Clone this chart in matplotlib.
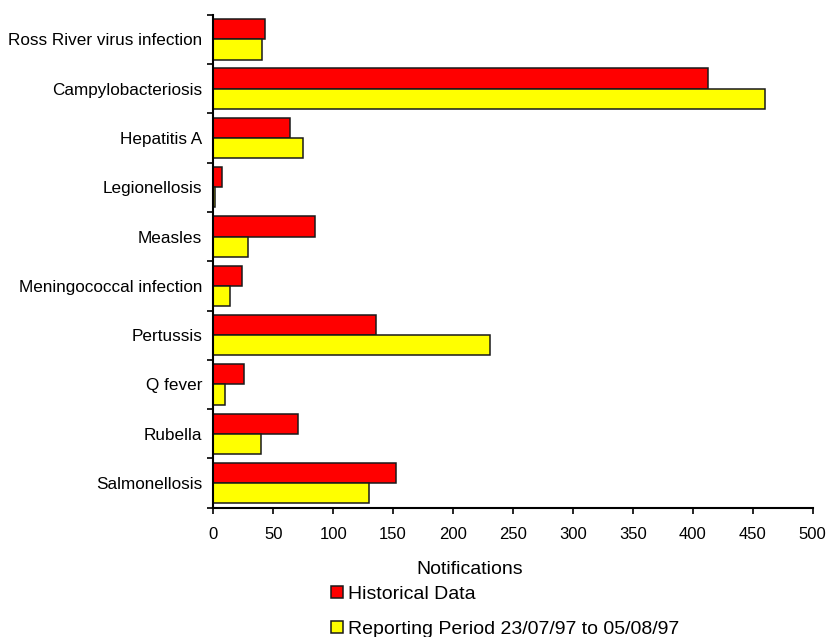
import matplotlib
matplotlib.use("Agg")
import matplotlib.pyplot as plt
import numpy as np

categories = ["Ross River virus infection", "Campylobacteriosis", "Hepatitis A",
              "Legionellosis", "Measles", "Meningococcal infection", "Pertussis",
              "Q fever", "Rubella", "Salmonellosis"]
historical = [43, 413, 64, 7, 85, 24, 136, 26, 71, 152]
reporting = [41, 460, 75, 1.5, 29, 14, 231, 10, 40, 130]
series_labels = ["Historical Data", "Reporting Period 23/07/97 to 05/08/97"]
xticks = [0, 50, 100, 150, 200, 250, 300, 350, 400, 450, 500]

plt.rcParams['font.family'] = ['Liberation Sans', 'DejaVu Sans']

W, H = 828, 637
fig = plt.figure(figsize=(W / 100, H / 100), dpi=100)
ax = fig.add_axes([213.3 / W, 1 - 507.7 / H, (812.7 - 213.3) / W, (507.7 - 14.7) / H])

y = np.arange(len(categories))
bh = 0.41
b1 = ax.barh(y - bh / 2, historical, height=bh, color="#ff0000", edgecolor="#1a1a1a",
             linewidth=1.1, label=series_labels[0])
b2 = ax.barh(y + bh / 2, reporting, height=bh, color="#ffff00", edgecolor="#1a1a1a",
             linewidth=1.1, label=series_labels[1])

ax.set_xlim(0, 500)
ax.set_ylim(len(categories) - 0.5, -0.5)
ax.set_xticks(xticks)
ax.set_xticklabels([str(t) for t in xticks], fontsize=12)
ax.tick_params(axis='x', direction='out', length=4, width=1.2, pad=10)

ax.set_yticks(np.arange(len(categories) + 1) - 0.5)
ax.set_yticklabels([])
ax.tick_params(axis='y', which='major', direction='out', length=4, width=1.2)
ax.set_yticks(y, minor=True)
ax.set_yticklabels(categories, minor=True, fontsize=12.3)
ax.tick_params(axis='y', which='minor', length=0, pad=8)

for s in ['top', 'right']:
    ax.spines[s].set_visible(False)
for s in ['left', 'bottom']:
    ax.spines[s].set_linewidth(1.5)

fig.text(470 / W, 1 - 570 / H, "Notifications", ha='center', va='center', fontsize=14)

leg = fig.legend(handles=[b1, b2], loc='upper left',
                 bbox_to_anchor=(331 / W, 1 - 586 / H), frameon=False,
                 fontsize=14, handlelength=0.6, handleheight=0.6,
                 handletextpad=0.3, labelspacing=0.9, borderpad=0, borderaxespad=0)

fig.savefig("out.png", dpi=100)
